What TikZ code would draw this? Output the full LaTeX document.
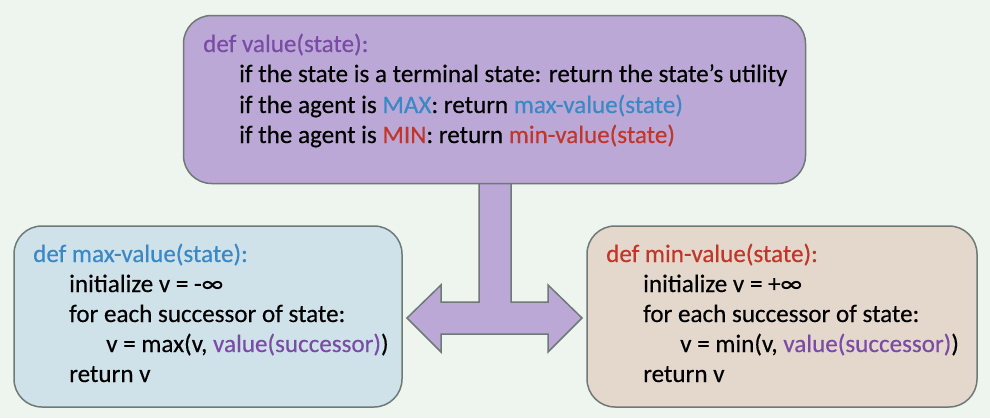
\documentclass[tikz,border=0pt]{standalone}
\usepackage{fontspec}
\setmainfont{Carlito}[FakeBold=0.4]
\begin{document}
\definecolor{bgc}{HTML}{EEF4EE}
\definecolor{edgec}{HTML}{6E7A76}
\definecolor{lavender}{HTML}{BBA8D6}
\definecolor{skyfill}{HTML}{CFE2EA}
\definecolor{sandfill}{HTML}{E4D7CC}
\definecolor{purpletxt}{HTML}{7A4CA6}
\definecolor{bluetxt}{HTML}{3A88C6}
\definecolor{redtxt}{HTML}{C2362A}
\begin{tikzpicture}[x=1pt,y=-1pt,
  panel/.style={draw=edgec, line width=1.5pt, rounded corners=28pt, inner sep=0pt},
  code/.style={anchor=base west, inner sep=0pt, font=\fontsize{25.1}{28}\selectfont, text=black},
  arrowbody/.style={draw=edgec, line width=1.5pt, fill=lavender, line join=miter}]
  % canvas
  \fill[bgc] (0,0) rectangle (990,418);
  \useasboundingbox (0,0) rectangle (990,418);

  % T-shaped double arrow joining the three panels
  \draw[arrowbody] (479,180) -- (479,302) -- (441,302) -- (441,285) -- (407,318)
    -- (441,352) -- (441,334) -- (548,334) -- (548,352) -- (582,318)
    -- (548,285) -- (548,302) -- (511,302) -- (511,180);

  % panels
  \node[panel, fill=lavender, minimum width=622pt, minimum height=168pt] (top) at (494.5,99.5) {};
  \node[panel, fill=skyfill, minimum width=388pt, minimum height=181pt] (maxbox) at (208,316.5) {};
  \node[panel, fill=sandfill, minimum width=390pt, minimum height=181pt] (minbox) at (782,316.5) {};

  % value(state)
  \node[code] (v0) at (203,52) {\textcolor{purpletxt}{def value(state):}};
  \node[code] (v1) at (239,82) {if the state is a terminal state: return the state’s utility};
  \node[code] (v2) at (239,113) {if the agent is \textcolor{bluetxt}{MAX}: return \textcolor{bluetxt}{max-value(state)}};
  \node[code] (v3) at (239,143) {if the agent is \textcolor{redtxt}{MIN}: return \textcolor{redtxt}{min-value(state)}};

  % max-value(state)
  \node[code] (a0) at (33,262) {\textcolor{bluetxt}{def max-value(state):}};
  \node[code] (a1) at (69,292) {initialize v = -∞};
  \node[code] (a2) at (69,322) {for each successor of state:};
  \node[code] (a3) at (106,352) {v = max(v, \textcolor{purpletxt}{value(successor)})};
  \node[code] (a4) at (69,382) {return v};

  % min-value(state)
  \node[code] (b0) at (606,262) {\textcolor{redtxt}{def min-value(state):}};
  \node[code] (b1) at (643,292) {initialize v = +∞};
  \node[code] (b2) at (643,322) {for each successor of state:};
  \node[code] (b3) at (680,352) {v = min(v, \textcolor{purpletxt}{value(successor)})};
  \node[code] (b4) at (643,382) {return v};
\end{tikzpicture}
\end{document}
